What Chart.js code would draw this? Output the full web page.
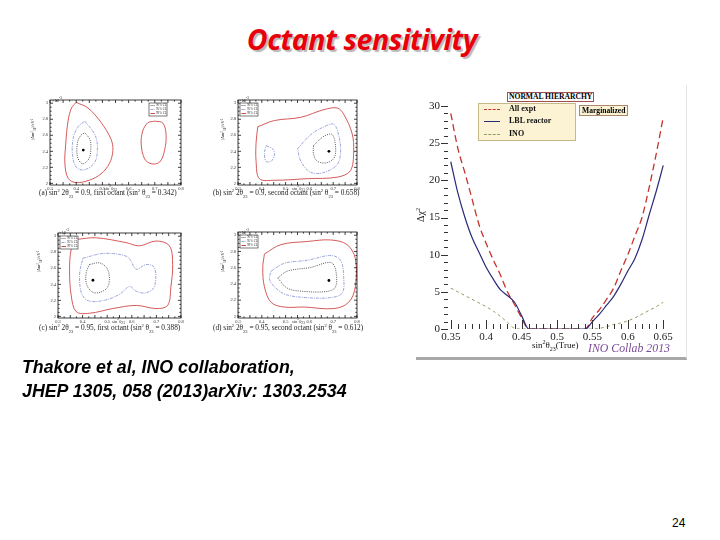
<!DOCTYPE html>
<html><head><meta charset="utf-8">
<script src="https://cdn.jsdelivr.net/npm/chart.js@4.4.1/dist/chart.umd.min.js"></script>
<style>
body{margin:0;width:720px;height:540px;background:#fff;position:relative;overflow:hidden;font-family:"Liberation Sans",Arial,sans-serif}
.abs{position:absolute}
canvas{display:block}
#title{left:0;width:724px;top:20px;text-align:center;font-family:"Open Sans",sans-serif;font-weight:700;font-style:italic;font-size:28.5px;color:#e8000a;text-shadow:2px 2px 1px #b8b8b8;letter-spacing:-0.4px}
.cap{font-family:"Liberation Sans",Arial,sans-serif;font-weight:700;font-style:italic;font-size:17.8px;color:#000;left:22px;white-space:nowrap}
.sub{font-family:"Liberation Serif",serif;font-size:7.3px;color:#222;white-space:nowrap}
.tiny{font-family:"Liberation Serif",serif;font-size:4.5px;color:#333;white-space:nowrap}
.serif{font-family:"Liberation Serif",serif;white-space:nowrap}
</style></head><body>
<div class="abs" id="title">Octant sensitivity</div>

<!-- contour panels -->
<div class="abs" style="left:30px;top:95px;width:155px;height:102px"><canvas id="ca"></canvas></div>
<div class="abs" style="left:218px;top:95px;width:143px;height:102px"><canvas id="cb"></canvas></div>
<div class="abs" style="left:38px;top:228px;width:147px;height:102px"><canvas id="cc"></canvas></div>
<div class="abs" style="left:218px;top:227px;width:143px;height:103px"><canvas id="cd"></canvas></div>

<div class="abs sub" style="left:39px;top:188px">(a) sin<sup style="font-size:4.5px">2</sup> 2θ<sub style="font-size:4.5px">23</sub> = 0.9, first octant (sin<sup style="font-size:4.5px">2</sup> θ<sub style="font-size:4.5px">23</sub> = 0.342)</div>
<div class="abs sub" style="left:213px;top:188px">(b) sin<sup style="font-size:4.5px">2</sup> 2θ<sub style="font-size:4.5px">23</sub> = 0.9, second octant (sin<sup style="font-size:4.5px">2</sup> θ<sub style="font-size:4.5px">23</sub> = 0.658)</div>
<div class="abs sub" style="left:39px;top:323px">(c) sin<sup style="font-size:4.5px">2</sup> 2θ<sub style="font-size:4.5px">23</sub> = 0.95, first octant (sin<sup style="font-size:4.5px">2</sup> θ<sub style="font-size:4.5px">23</sub> = 0.388)</div>
<div class="abs sub" style="left:213px;top:323px">(d) sin<sup style="font-size:4.5px">2</sup> 2θ<sub style="font-size:4.5px">23</sub> = 0.95, second octant (sin<sup style="font-size:4.5px">2</sup> θ<sub style="font-size:4.5px">23</sub> = 0.612)</div>

<div class="abs tiny" style="left:104px;top:184px">sin<sup>2</sup>θ<sub>23</sub></div>
<div class="abs tiny" style="left:292px;top:184px">sin<sup>2</sup>θ<sub>23</sub></div>
<div class="abs tiny" style="left:112px;top:317px">sin<sup>2</sup>θ<sub>23</sub></div>
<div class="abs tiny" style="left:292px;top:317px">sin<sup>2</sup>θ<sub>23</sub></div>
<div class="abs tiny" style="left:30px;top:140px;transform:rotate(-90deg);transform-origin:left top">|Δm²<sub>31</sub>|/eV²</div>
<div class="abs tiny" style="left:220px;top:140px;transform:rotate(-90deg);transform-origin:left top">|Δm²<sub>31</sub>|/eV²</div>
<div class="abs tiny" style="left:36px;top:272px;transform:rotate(-90deg);transform-origin:left top">|Δm²<sub>31</sub>|/eV²</div>
<div class="abs tiny" style="left:220px;top:272px;transform:rotate(-90deg);transform-origin:left top">|Δm²<sub>31</sub>|/eV²</div>
<div class="abs tiny" style="left:52px;top:96px">×10<sup>-3</sup></div>
<div class="abs tiny" style="left:239px;top:96px">×10<sup>-3</sup></div>
<div class="abs tiny" style="left:59px;top:228px">×10<sup>-3</sup></div>
<div class="abs tiny" style="left:239px;top:228px">×10<sup>-3</sup></div>

<!-- main chart -->
<div class="abs" style="left:416px;top:85px;width:270px;height:272px;border-right:1px solid #e4e4e4;border-bottom:3px solid #a8a8a8"></div>
<div class="abs" style="left:415px;top:85px;width:272px;height:275px"><canvas id="main"></canvas></div>
<div class="abs serif" style="left:507px;top:92px;height:8px;line-height:8px;font-size:7.6px;font-weight:700;border:1px solid #a05050;padding:0 1px;background:#fff">NORMAL HIERARCHY</div>
<div class="abs serif" style="left:478px;top:103px;width:96px;height:36px;background:#fbf3d4;border:1px solid #c8b888"></div>
<div class="abs serif" style="left:579px;top:105px;height:9px;line-height:9px;font-size:7.6px;font-weight:700;background:#fbf3d4;border:1px solid #a88868;padding:0 2px">Marginalized</div>
<div class="abs" style="left:484px;top:109px;width:16px;border-top:1.2px dashed #c8322c"></div>
<div class="abs" style="left:484px;top:121px;width:16px;border-top:1.2px solid #2a2a7a"></div>
<div class="abs" style="left:484px;top:134px;width:16px;border-top:1px dashed #8aa060"></div>
<div class="abs serif" style="left:509px;top:104px;font-size:8px;font-weight:700;color:#111">All expt</div>
<div class="abs serif" style="left:509px;top:116px;font-size:8px;font-weight:700;color:#111">LBL reactor</div>
<div class="abs serif" style="left:509px;top:129px;font-size:8px;font-weight:700;color:#111">INO</div>
<div class="abs serif" style="left:415px;top:222px;font-size:10px;color:#111;transform:rotate(-90deg);transform-origin:left top">Δχ<sup style="font-size:6px">2</sup></div>
<div class="abs serif" style="left:532px;top:339px;font-size:9px;color:#111">sin<sup style="font-size:6px">2</sup>θ<sub style="font-size:6px">23</sub>(True)</div>
<div class="abs serif" style="left:588px;top:341px;font-size:11.8px;font-style:italic;color:#7a4a96">INO Collab 2013</div>

<div class="abs cap" style="top:357px">Thakore et al, INO collaboration,</div>
<div class="abs cap" style="top:381px">JHEP 1305, 058 (2013)arXiv: 1303.2534</div>
<div class="abs" style="left:672px;top:516px;font-size:12px;color:#000">24</div>

<script>
// ---- main chart data (Δχ² vs true sin²θ23) ----
const sinTrue    = [0.35,0.36,0.37,0.38,0.39,0.40,0.41,0.42,0.43,0.44,0.45,0.46,0.47,0.48,0.49,0.50,0.51,0.52,0.53,0.54,0.55,0.56,0.57,0.58,0.59,0.60,0.61,0.62,0.63,0.64,0.65];
const allExpt    = [29.0,24.3,21.0,17.5,14.0,11.5,9.3,7.3,5.0,3.3,1.5,0,0,0,0,0,0,0,0,0,1.5,2.6,4.0,5.5,7.8,10.0,12.5,15.0,19.0,23.5,28.5];
const lblReactor = [22.5,18.3,15.0,12.3,10.3,8.3,6.7,5.3,4.5,3.6,1.8,0,0,0,0,0,0,0,0,0,1.0,2.0,3.2,4.4,6.0,7.8,9.5,12.0,15.3,18.5,22.0];
const inoOnly    = [5.5,5.0,4.5,4.0,3.5,3.0,2.4,1.7,0.9,0.1,0,0,0,0,0,0,0,0,0,0,0,0.1,0.3,0.6,0.8,1.1,1.5,2.0,2.5,3.0,3.6];
const xTicks      = [0.35,0.40,0.45,0.50,0.55,0.60,0.65];
const xTickLabels = ['0.35','0.4','0.45','0.5','0.55','0.6','0.65'];
const yTicks      = [0,5,10,15,20,25,30];

// ---- contour panels (sin²θ23, |Δm²31| ×10⁻³ eV²) ----
const A99L = [[0.40,3.01],[0.445,2.94],[0.495,2.76],[0.533,2.55],[0.54,2.41],[0.527,2.25],[0.495,2.12],[0.45,2.04],[0.40,2.01],[0.37,2.06],[0.357,2.24],[0.36,2.49],[0.369,2.78],[0.382,2.94],[0.40,3.01]];
const A99R = [[0.699,2.776],[0.730,2.755],[0.743,2.612],[0.737,2.408],[0.718,2.265],[0.686,2.245],[0.661,2.306],[0.648,2.49],[0.654,2.653],[0.673,2.755],[0.699,2.776]];
const A95  = [[0.433,2.776],[0.471,2.61],[0.481,2.45],[0.471,2.265],[0.433,2.17],[0.401,2.20],[0.386,2.35],[0.389,2.57],[0.408,2.71],[0.433,2.776]];
const A90  = [[0.433,2.63],[0.452,2.55],[0.456,2.45],[0.449,2.31],[0.424,2.245],[0.405,2.33],[0.405,2.51],[0.418,2.6],[0.433,2.63]];
const Abest = [[0.427,2.416]];
const B99  = [[0.383,2.706],[0.453,2.784],[0.564,2.824],[0.661,2.92],[0.717,2.94],[0.744,2.863],[0.779,2.627],[0.786,2.392],[0.772,2.157],[0.717,2.078],[0.592,2.059],[0.453,2.039],[0.390,2.059],[0.376,2.275],[0.376,2.51],[0.383,2.706]];
const B95L = [[0.418,2.47],[0.446,2.43],[0.453,2.353],[0.439,2.275],[0.418,2.275],[0.411,2.373],[0.418,2.47]];
const B95R = [[0.55,2.431],[0.606,2.608],[0.661,2.706],[0.703,2.737],[0.724,2.588],[0.731,2.392],[0.717,2.235],[0.661,2.137],[0.606,2.137],[0.564,2.275],[0.55,2.431]];
const B90  = [[0.617,2.47],[0.661,2.588],[0.696,2.608],[0.71,2.451],[0.703,2.314],[0.668,2.255],[0.631,2.282],[0.617,2.373],[0.617,2.47]];
const Bbest = [[0.682,2.4]];
const C99  = [[0.374,2.96],[0.455,2.98],[0.577,2.92],[0.631,2.88],[0.699,2.94],[0.753,2.88],[0.766,2.647],[0.759,2.373],[0.746,2.137],[0.699,2.098],[0.618,2.137],[0.523,2.098],[0.428,2.039],[0.374,2.059],[0.354,2.255],[0.347,2.569],[0.354,2.843],[0.374,2.96]];
const C95  = [[0.401,2.725],[0.482,2.784],[0.564,2.765],[0.591,2.718],[0.618,2.588],[0.658,2.647],[0.692,2.608],[0.692,2.373],[0.658,2.294],[0.618,2.314],[0.591,2.373],[0.55,2.275],[0.482,2.196],[0.422,2.196],[0.395,2.294],[0.388,2.529],[0.401,2.725]];
const C90  = [[0.428,2.647],[0.469,2.667],[0.499,2.6],[0.509,2.471],[0.499,2.353],[0.462,2.294],[0.435,2.314],[0.415,2.412],[0.415,2.549],[0.428,2.647]];
const Cbest = [[0.442,2.451]];
const D99  = [[0.411,2.769],[0.481,2.885],[0.592,2.923],[0.689,2.942],[0.758,2.885],[0.793,2.712],[0.793,2.365],[0.765,2.173],[0.703,2.096],[0.578,2.115],[0.494,2.115],[0.439,2.173],[0.411,2.365],[0.404,2.596],[0.411,2.769]];
const D95  = [[0.439,2.558],[0.494,2.654],[0.592,2.692],[0.689,2.75],[0.731,2.692],[0.744,2.481],[0.738,2.288],[0.689,2.231],[0.592,2.231],[0.501,2.269],[0.453,2.365],[0.432,2.462],[0.439,2.558]];
const D90  = [[0.467,2.473],[0.508,2.558],[0.606,2.604],[0.689,2.665],[0.71,2.577],[0.71,2.365],[0.675,2.308],[0.578,2.308],[0.508,2.346],[0.467,2.473]];
const Dbest = [[0.682,2.442]];
const clLabels = ['90% CL','95% CL','99% CL'];
const cXTicks = [0.3,0.4,0.5,0.6,0.7,0.8];
const cYTicks = [2.0,2.2,2.4,2.6,2.8,3.0];
const cYTickLabels = ['2','2.2','2.4','2.6','2.8','3'];

const toXY = arr => arr.map(p => ({x:p[0], y:p[1]}));

// ---------- main chart ----------
const mainTicks = {
  id:'mainTicks',
  afterDraw(chart){
    const {ctx, chartArea:a, scales:{x,y}} = chart;
    ctx.save(); ctx.strokeStyle='#333'; ctx.lineWidth=1;
    for(let k=0;k<=30;k++){
      const py = Math.round(y.getPixelForValue(k))+0.5;
      const len = k%5===0 ? 7 : 4;
      ctx.beginPath(); ctx.moveTo(a.left-1,py); ctx.lineTo(a.left-1-len,py); ctx.stroke();
    }
    for(let k=35;k<=65;k++){
      const px = Math.round(x.getPixelForValue(k/100))+0.5;
      const len = k%5===0 ? 9 : 5;
      ctx.beginPath(); ctx.moveTo(px,a.bottom); ctx.lineTo(px,a.bottom-len); ctx.stroke();
    }
    ctx.restore();
  }
};

new Chart(document.getElementById('main'), {
  type:'line',
  data:{datasets:[
    {label:'INO', data: sinTrue.map((v,i)=>({x:v,y:inoOnly[i]})), borderColor:'#8aa060', borderDash:[3,3], borderWidth:1, pointRadius:0, cubicInterpolationMode:'monotone'},
    {label:'LBL reactor', data: sinTrue.map((v,i)=>({x:v,y:lblReactor[i]})), borderColor:'#2a2a7a', borderWidth:1.2, pointRadius:0, cubicInterpolationMode:'monotone'},
    {label:'All expt', data: sinTrue.map((v,i)=>({x:v,y:allExpt[i]})), borderColor:'#c8322c', borderDash:[7,4], borderWidth:1.3, pointRadius:0, cubicInterpolationMode:'monotone'}
  ]},
  options:{
    animation:false, responsive:true, maintainAspectRatio:false,
    layout:{padding:{top:21,right:22,left:0,bottom:0}},
    plugins:{legend:{display:false}, tooltip:{enabled:false}},
    scales:{
      x:{type:'linear', min:0.3475, max:0.6525, grid:{display:false, drawTicks:false}, border:{display:false},
         afterBuildTicks:s=>{s.ticks = xTicks.map(v=>({value:v}));},
         afterFit:s=>{s.height=31;},
         ticks:{padding:2, autoSkip:false, maxRotation:0, color:'#222', font:{family:'Liberation Serif', size:11},
                callback:(v,i)=>xTickLabels[i]}},
      y:{min:0, max:30, grid:{display:false, drawTicks:false}, border:{display:false},
         afterBuildTicks:s=>{s.ticks = yTicks.map(v=>({value:v}));},
         afterFit:s=>{s.width=34;},
         ticks:{padding:9, autoSkip:false, color:'#222', font:{family:'Liberation Serif', size:11}}}
    }
  },
  plugins:[mainTicks]
});

// ---------- contour panels ----------
const frameTicks = {
  id:'frameTicks',
  afterDraw(chart, args, opts){
    const {ctx, chartArea:a, scales:{x,y}} = chart;
    ctx.save(); ctx.strokeStyle='#111'; ctx.lineWidth=0.8;
    ctx.strokeRect(a.left, a.top, a.right-a.left, a.bottom-a.top);
    for(let k=0;k<=20;k++){
      const px = x.getPixelForValue(0.3+k*0.025);
      const len = k%2===0 ? 3 : 1.6;
      ctx.beginPath(); ctx.moveTo(px,a.bottom); ctx.lineTo(px,a.bottom-len);
      ctx.moveTo(px,a.top); ctx.lineTo(px,a.top+len); ctx.stroke();
    }
    for(let k=0;k<=21;k++){
      const v = 2.0+k*0.05; if(v>y.max) break;
      const py = y.getPixelForValue(v);
      const len = k%4===0 ? 3 : 1.6;
      ctx.beginPath(); ctx.moveTo(a.left,py); ctx.lineTo(a.left+len,py);
      ctx.moveTo(a.right,py); ctx.lineTo(a.right-len,py); ctx.stroke();
    }
    const w=18, h=13;
    const lx = opts.corner==='tr' ? a.right-w-14 : a.left+2;
    const ly = a.top+3;
    ctx.fillStyle='#fff'; ctx.fillRect(lx,ly,w,h);
    ctx.strokeStyle='#222'; ctx.lineWidth=0.6; ctx.strokeRect(lx,ly,w,h);
    const styles = [['#111',[1,1]],['#7080c8',[3,1,1,1]],['#d04848',[]]];
    ctx.font='3.2px "Liberation Serif"'; ctx.textBaseline='middle';
    styles.forEach((s,i)=>{
      const yy = ly+2.5+i*4;
      ctx.strokeStyle=s[0]; ctx.setLineDash(s[1]); ctx.lineWidth = i===2?1:0.7;
      ctx.beginPath(); ctx.moveTo(lx+1.5,yy); ctx.lineTo(lx+6,yy); ctx.stroke();
      ctx.setLineDash([]); ctx.fillStyle='#333'; ctx.fillText(clLabels[i], lx+7, yy);
    });
    ctx.restore();
  }
};

function contourChart(id, c90, c95list, c99list, best, corner){
  const ds = [];
  c99list.forEach(c=>ds.push({data:toXY(c), showLine:true, borderColor:'#d04848', borderWidth:0.9, pointRadius:0, tension:0.35}));
  c95list.forEach(c=>ds.push({data:toXY(c), showLine:true, borderColor:'#7080c8', borderWidth:0.7, borderDash:[3,1,1,1], pointRadius:0, tension:0.35}));
  ds.push({data:toXY(c90), showLine:true, borderColor:'#111', borderWidth:0.7, borderDash:[1,1.2], pointRadius:0, tension:0.35});
  ds.push({data:toXY(best), showLine:false, pointRadius:1.4, pointBackgroundColor:'#000', pointBorderWidth:0});
  new Chart(document.getElementById(id), {
    type:'scatter',
    data:{datasets:ds},
    options:{
      animation:false, responsive:true, maintainAspectRatio:false,
      layout:{padding:{top:5,right:3,left:0,bottom:0}},
      plugins:{legend:{display:false}, tooltip:{enabled:false}, frameTicks:{corner}},
      scales:{
        x:{type:'linear', min:0.3, max:0.8, grid:{display:false, drawTicks:false}, border:{display:false},
           afterBuildTicks:s=>{s.ticks = cXTicks.map(v=>({value:v}));},
           afterFit:s=>{s.height=12;},
           ticks:{padding:1, autoSkip:false, maxRotation:0, color:'#333', font:{family:'Liberation Serif', size:4.5},
                  callback:v=>String(Math.round(v*10)/10)}},
        y:{min:1.98, max:3.04, grid:{display:false, drawTicks:false}, border:{display:false},
           afterBuildTicks:s=>{s.ticks = cYTicks.map(v=>({value:v}));},
           afterFit:s=>{s.width=20;},
           ticks:{padding:2, autoSkip:false, color:'#333', font:{family:'Liberation Serif', size:4.5},
                  callback:(v,i)=>cYTickLabels[i]}}
      }
    },
    plugins:[frameTicks]
  });
}
contourChart('ca', A90, [A95], [A99L, A99R], Abest, 'tr');
contourChart('cb', B90, [B95L, B95R], [B99], Bbest, 'tl');
contourChart('cc', C90, [C95], [C99], Cbest, 'tl');
contourChart('cd', D90, [D95], [D99], Dbest, 'tl');
</script>
</body></html>
